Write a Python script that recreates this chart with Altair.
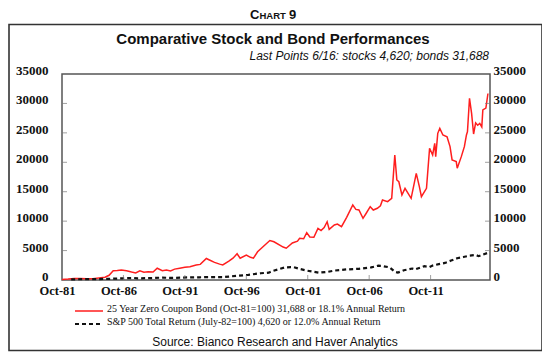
import altair as alt
import pandas as pd

# ---------------- data ----------------
bond_dates = ["1981-10", "1982-04", "1982-10", "1983-04", "1983-10", "1984-04", "1984-10",
              "1985-04", "1985-08", "1985-12", "1986-04", "1986-08", "1987-01", "1987-06",
              "1987-10", "1988-02", "1988-06", "1988-10", "1989-03", "1989-07", "1989-12",
              "1990-04", "1990-08", "1990-12", "1991-05", "1991-10", "1992-03", "1992-09",
              "1993-01", "1993-07", "1993-10", "1994-03", "1994-08", "1994-11", "1995-05",
              "1995-09", "1996-01", "1996-04", "1996-10", "1997-02", "1997-05", "1997-09",
              "1998-02", "1998-09", "1999-01", "1999-10", "2000-01", "2000-07", "2000-12",
              "2001-02", "2001-06", "2001-09", "2001-12", "2002-04", "2002-08", "2002-11",
              "2003-02", "2003-05", "2003-07", "2003-12", "2004-03", "2004-07", "2004-12",
              "2005-06", "2005-09", "2005-12", "2006-04", "2006-07", "2006-11", "2007-02",
              "2007-06", "2007-09", "2007-11", "2008-04", "2008-08", "2008-11", "2009-01",
              "2009-03", "2009-06", "2009-09", "2009-12", "2010-03", "2010-06", "2010-08",
              "2010-11", "2011-01", "2011-06", "2011-09", "2011-12", "2012-02", "2012-03",
              "2012-05", "2012-07", "2012-10", "2013-02", "2013-05", "2013-07", "2013-11",
              "2013-12", "2014-04", "2014-07", "2014-09", "2014-10", "2014-12", "2015-02",
              "2015-04", "2015-06", "2015-08", "2015-10", "2015-12", "2016-01", "2016-04",
              "2016-06"]
bond_values = [100, 150, 260, 240, 220, 200, 330,
               480, 800, 1580, 1600, 1680, 1560, 1350,
               1200, 1550, 1330, 1400, 1350, 2000, 1580,
               1700, 1550, 1850, 2000, 2150, 2260, 2550,
               2650, 3650, 3400, 3000, 2700, 2550, 3200,
               3700, 4450, 3700, 4250, 3850, 3700, 4800,
               5600, 6700, 6500, 5600, 5400, 6300, 6600,
               7080, 7000, 8040, 7300, 7250, 8780, 8400,
               8900, 9900, 8610, 9350, 9500, 9060, 10650,
               12740, 12000, 11890, 10480, 11300, 12460, 11890,
               12180, 12600, 13590, 13310, 13880, 21240, 17000,
               16700, 14440, 15570, 14720, 13880, 16420, 18120,
               15860, 14160, 15570, 22380, 21240, 23220, 20960,
               24920, 25770, 24640, 24350, 22660, 20400, 20110,
               19000, 20960, 22660, 24640, 25200, 30870, 28300,
               24800, 26700, 26300, 26600, 26000, 28900, 29200,
               31688]

spx_dates = ["1982-07", "1983-06", "1984-06", "1985-06", "1986-06", "1987-08", "1987-12",
             "1988-12", "1989-12", "1990-10", "1991-12", "1992-12", "1993-12", "1994-12",
             "1995-12", "1996-12", "1997-12", "1998-08", "1998-12", "1999-12", "2000-08",
             "2001-03", "2001-09", "2002-09", "2003-06", "2003-12", "2004-12", "2005-12",
             "2006-12", "2007-07", "2007-10", "2008-06", "2008-11", "2009-02", "2009-08",
             "2010-04", "2010-07", "2010-12", "2011-04", "2011-09", "2011-12", "2012-06",
             "2012-12", "2013-06", "2013-12", "2014-06", "2014-12", "2015-06", "2015-09",
             "2015-12", "2016-06"]
spx_values = [100, 150, 140, 190, 260, 350, 280,
              320, 400, 350, 430, 460, 500, 500,
              700, 880, 1150, 1250, 1550, 2150, 2200,
              1850, 1600, 1240, 1400, 1600, 1800, 1900,
              2150, 2430, 2400, 2150, 1400, 1250, 1650,
              1950, 1800, 2100, 2350, 2200, 2450, 2700,
              2900, 3300, 3700, 3900, 4150, 4250, 4050,
              4250, 4620]

y_ticks = [0, 5000, 10000, 15000, 20000, 25000, 30000, 35000]
x_tick_years = [1981, 1986, 1991, 1996, 2001, 2006, 2011]

chart_label = ["C", "HART", "9"]
title_text = "Comparative Stock and Bond Performances"
subtitle_text = "Last Points 6/16:  stocks  4,620;  bonds  31,688"
legend_labels = ["25 Year Zero Coupon Bond (Oct-81=100) 31,688 or 18.1% Annual Return",
                 "S&P 500 Total Return (July-82=100) 4,620 or 12.0% Annual Return"]
source_text = "Source: Bianco Research and Haver Analytics"

# ---------------- build ----------------
W, H = 428, 206
RED = "#ff1e1e"
SERIF = "Liberation Serif"
SANS = "Liberation Sans"

bond = pd.DataFrame({"date": [d + "-01" for d in bond_dates], "value": bond_values})
spx = pd.DataFrame({"date": [d + "-01" for d in spx_dates], "value": spx_values})
yt = pd.DataFrame({"v": y_ticks[1:-1]})
xt = pd.DataFrame({"date": ["%d-10-01" % y for y in x_tick_years[1:]]})
one = pd.DataFrame({"a": [0]})

x_scale = alt.Scale(type="utc",
                    domain=[alt.DateTime(year=1981, month=10, date=1, utc=True),
                            alt.DateTime(year=2016, month=8, date=1, utc=True)])
y_scale = alt.Scale(domain=[0, 35000], nice=False)

x_axis = alt.Axis(values=[alt.DateTime(year=y, month=10, date=1, utc=True) for y in x_tick_years],
                  labelExpr="utcFormat(datum.value, '%b-%y')", title=None, ticks=False,
                  domain=False, grid=False, labelFont=SERIF, labelFontSize=12.5,
                  labelFontWeight="bold", labelColor="#111", labelPadding=4, labelFlush=False,
                  labelOverlap=False, labelOffset=-5)
X = alt.X("date:T", scale=x_scale, axis=x_axis)

def y_axis(orient, pad):
    return alt.Axis(orient=orient, values=y_ticks, format="d", title=None, ticks=False,
                    domain=False, grid=False, labelFont=SERIF, labelFontSize=13,
                    labelFontWeight="bold", labelColor="#111", labelPadding=pad,
                    labelOffset=-3.5, labelOverlap=False)

red_line = alt.Chart(bond).mark_line(color=RED, strokeWidth=1.5).encode(
    x=X, y=alt.Y("value:Q", scale=y_scale, axis=y_axis("left", 14)))
black_line = alt.Chart(spx).mark_line(color="#111", strokeWidth=2.2, strokeDash=[4, 3]).encode(
    x=X, y=alt.Y("value:Q", scale=y_scale, axis=y_axis("right", 3)))

tick_l = alt.Chart(yt).mark_tick(orient="horizontal", size=5, thickness=1, color="#777").encode(
    y=alt.Y("v:Q", scale=y_scale, axis=None), x=alt.value(2.5))
tick_r = alt.Chart(yt).mark_tick(orient="horizontal", size=5, thickness=1, color="#777").encode(
    y=alt.Y("v:Q", scale=y_scale, axis=None), x=alt.value(W - 2.5))
tick_b = alt.Chart(xt).mark_tick(orient="vertical", size=5, thickness=1, color="#777").encode(
    x=X, y=alt.value(H - 2.5))

frame = alt.Chart(one).mark_rect(fillOpacity=0, stroke="#333", strokeWidth=1.6).encode(
    x=alt.value(-53), x2=alt.value(480), y=alt.value(-49.5), y2=alt.value(276.5))

def txt(text, x, y, size, weight="normal", font=SANS, align="left", style="normal",
        baseline="alphabetic", color="#111"):
    return alt.Chart(one).mark_text(align=align, baseline=baseline, font=font, fontSize=size,
                                    fontWeight=weight, fontStyle=style, color=color).encode(
        x=alt.value(x), y=alt.value(y), text=alt.value(text))

texts = [
    txt(chart_label[0], 188, -55, 13, "bold"),
    txt(chart_label[1], 197.5, -55, 9.5, "bold"),
    txt(chart_label[2], 227, -55, 13, "bold"),
    txt(title_text, 211, -30, 15, "bold", align="center"),
    txt(subtitle_text, 427, -14, 12, style="italic", align="right"),
    txt(legend_labels[0], 45, 235, 10, font=SERIF, baseline="middle"),
    txt(legend_labels[1], 45, 248, 10, font=SERIF, baseline="middle"),
    txt(source_text, 213, 268, 12, align="center", baseline="middle"),
]

leg_red = alt.Chart(one).mark_rule(color=RED, strokeWidth=1.5).encode(
    x=alt.value(13), x2=alt.value(41), y=alt.value(237))
leg_blk = alt.Chart(one).mark_rule(color="#111", strokeWidth=2.2, strokeDash=[4, 3]).encode(
    x=alt.value(13), x2=alt.value(41), y=alt.value(250))

chart = alt.layer(red_line, black_line, tick_l, tick_r, tick_b, frame, leg_red, leg_blk, *texts).resolve_scale(
    y="shared").resolve_axis(y="independent").properties(
    width=W, height=H, autosize=alt.AutoSizeParams(type="none"),
    padding={"left": 54, "top": 66, "right": 52, "bottom": 72}
).configure_view(stroke="#555", strokeWidth=1.5)

chart.save("out.html", embed_options={"renderer": "svg", "actions": False})
